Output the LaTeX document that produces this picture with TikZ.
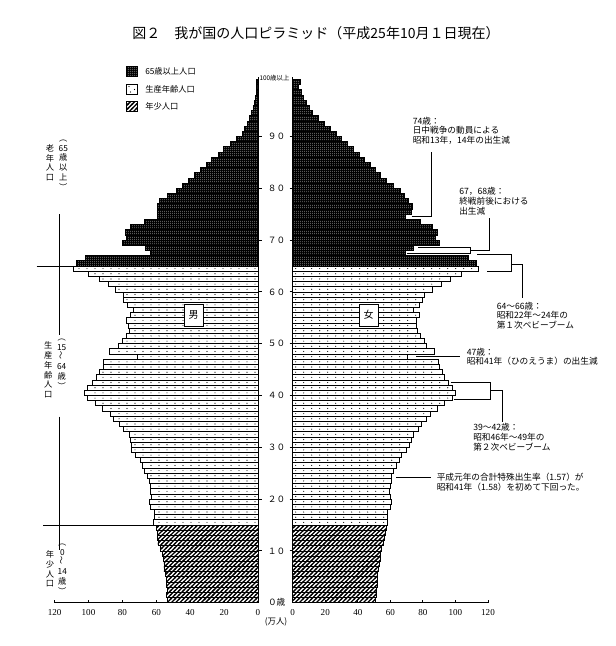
\documentclass[tikz,border=0pt]{standalone}
\usepackage{fontspec}
\usepackage{graphicx}
\usetikzlibrary{patterns}
\newfontfamily\jp{Noto Sans CJK JP}
\newfontfamily\serifnum{Liberation Serif}
\newcommand\vlp{︵}
\newcommand\vrp{︶}
\newcommand\vwave{\rotatebox{90}{〜}}
\pgfdeclarepatternformonly{finedots}{\pgfqpoint{0pt}{0pt}}{\pgfqpoint{1.5pt}{1.5pt}}{\pgfqpoint{1.5pt}{1.5pt}}{\pgfpathcircle{\pgfqpoint{0.75pt}{0.75pt}}{0.35pt}\pgfusepath{fill}}
\pgfdeclarepatternformonly{thickhatch}{\pgfqpoint{-1pt}{-1pt}}{\pgfqpoint{4.2pt}{4.2pt}}{\pgfqpoint{3.2pt}{3.2pt}}{\pgfsetlinewidth{0.95pt}\pgfpathmoveto{\pgfqpoint{-0.5pt}{-0.5pt}}\pgfpathlineto{\pgfqpoint{3.7pt}{3.7pt}}\pgfusepath{stroke}}
\begin{document}
\begin{tikzpicture}[x=0.75pt,y=0.75pt,yscale=-1,
  youngbar/.style={draw=black,line width=0.6pt,preaction={fill=white},pattern=thickhatch},
  workbar/.style={draw=black,line width=0.6pt,fill=white},
  dotrow/.style={line width=0.85pt,line cap=round,dash pattern=on 0pt off 6pt},
  oldbar/.style={draw=black,line width=0.6pt,preaction={fill=black},pattern=finedots,pattern color=white},
  leader/.style={line width=0.7pt},
  note/.style={font=\jp\fontsize{6.5}{7.3}\selectfont,align=left,anchor=north west,inner sep=0pt},
  vlab/.style={font=\jp\fontsize{6.2}{7.3}\selectfont,align=center,inner sep=0pt},
  agelab/.style={font=\jp\fontsize{6.5}{6.5}\selectfont,inner sep=0pt},
  toplab/.style={font=\jp\fontsize{4.8}{4.8}\selectfont,inner sep=0pt},
  numlab/.style={font=\serifnum\fontsize{6.8}{6.8}\selectfont,inner sep=0pt},
  sexbox/.style={draw=black,line width=0.6pt,fill=white,minimum width=14.25pt,minimum height=16.5pt,inner sep=0pt,font=\jp\fontsize{7.5}{7.5}\selectfont},
  legbox/.style={minimum width=8.25pt,minimum height=7.5pt,inner sep=0pt},
  legtext/.style={font=\jp\fontsize{6.2}{6.2}\selectfont,anchor=west,inner sep=0pt},
  titletext/.style={font=\jp\fontsize{10.5}{10.5}\selectfont,inner sep=0pt}]
\useasboundingbox (0,0) rectangle (615,646);

% Title
\node[titletext] (title) at (316,33) {図２　我が国の人口ピラミッド（平成25年10月１日現在）};

% Legend
\node[legbox,oldbar] (keyold) at (131.5,71.5) {};
\node[legtext] (keyoldtxt) at (145,71.5) {65歳以上人口};
\node[legbox,workbar] (keywork) at (131.5,89) {};
\fill (129,86.5) circle (0.6) (134.5,89.5) circle (0.6) (130.5,92) circle (0.6);
\node[legtext] (keyworktxt) at (145,89) {生産年齢人口};
\node[legbox,youngbar] (keyyoung) at (131.5,106.3) {};
\node[legtext] (keyyoungtxt) at (145,106.3) {年少人口};

% Male bars
\foreach \w [count=\a from 0] in {53.5,54,53.5,54,54,54.5,55.5,55.5,56,56.5,57.5,59,59.5,59.5,60}
  \draw[youngbar] ({258-1.695*\w},{602.7-5.18*\a}) rectangle (258,{597.52-5.18*\a});
\foreach \w [count=\a from 15] in {61.5,61.4,61.4,63.3,64.1,62.7,63.3,63.7,64.1,65.3,67.1,68.2,69.6,72.6,74.5,74.9,75.5,76.1,79.4,81.8,85.3,87.3,91.8,96.2,100.7,102.5,100.7,97.7,95.2,93.6,91.2,91.2,71.2,87.7,82.4,80,77.5,75.9,76.5,77.5,75.1,73.5,76.9,79.4,79.4,84.4,88.3,93.6,100,109}{
  \draw[workbar] ({258-1.695*\w},{602.7-5.18*\a}) rectangle (258,{597.52-5.18*\a});
  \draw[dotrow] (255,{600.11-5.18*\a}) -- ({261-1.695*\w},{600.11-5.18*\a});
}
\foreach \w [count=\a from 65] in {107.4,102,63.7,66.7,80,77.5,78.5,75.5,67,59.5,59.4,59.4,58.2,53.5,48.4,44.4,41.1,37.8,34.2,30.7,27.3,23.4,20.5,16.5,12.6,9.5,7.8,6.2,4.9,3.7,2.8,2.2,1.6,1.2,0.9,1.2}
  \draw[oldbar] ({258-1.695*\w},{602.7-5.18*\a}) rectangle (258,{597.52-5.18*\a});

% Female bars
\foreach \w [count=\a from 0] in {51,51.5,51.5,52,52,52,52.5,53,53.5,54,54.5,55.5,56.5,57,57.5}
  \draw[youngbar] (292.7,{602.7-5.18*\a}) rectangle ({292.7+1.63*\w},{597.52-5.18*\a});
\foreach \w [count=\a from 15] in {58,58.1,58.3,59.7,60.7,59.7,59.3,59.7,60.3,60.7,61.7,63.4,65.2,66.9,69.9,71.5,73,74,77.1,79.1,82.2,84.7,88.7,93,98.2,99.6,98.2,95.5,92.8,91.8,90,89.3,70.5,86.7,82.2,80.6,78.5,76.5,76.1,76.1,77.7,74,77.7,79.7,80.8,85.6,91.4,96.5,103.7,113.9}{
  \draw[workbar] (292.7,{602.7-5.18*\a}) rectangle ({292.7+1.63*\w},{597.52-5.18*\a});
  \draw[dotrow] (295.7,{600.11-5.18*\a}) -- ({289.7+1.63*\w},{600.11-5.18*\a});
}
\foreach \w [count=\a from 65] in {112.9,107.7,68.9,74,89.8,87.7,88.7,85.9,78.1,68.9,73,73.6,71,68.5,66,62,57.5,54,51,47.4,44,40.7,37.2,33.7,30.1,26.6,22.9,19.4,15.7,12.1,10,8.3,6.8,5.3,3.8,5}
  \draw[oldbar] (292.7,{602.7-5.18*\a}) rectangle ({292.7+1.63*\w},{597.52-5.18*\a});

% Axes
\draw[leader] (258,602.7) -- (258,77) (292.7,602.7) -- (292.7,77);
\draw[leader] (54.6,602.7) -- (258,602.7) (292.7,602.7) -- (488,602.7);
\foreach \i in {0,...,6}{
  \pgfmathtruncatemacro\v{\i*20}
  \draw[leader] ({258-33.9*\i},602.7) -- ++(0,-3);
  \draw[leader] ({292.7+32.55*\i},602.7) -- ++(0,-3);
  \node[numlab] (mx\i) at ({258-33.9*\i},613) {\v};
  \node[numlab] (fx\i) at ({292.7+32.55*\i},613) {\v};
}
\node[numlab,font=\jp\fontsize{6.3}{6.3}\selectfont] (unit) at (276,622) {(万人)};

% Age labels
\node[agelab] (age0) at (276.7,602.7) {０歳};
\foreach \v [count=\i] in {１０,２０,３０,４０,５０,６０,７０,８０,９０}{
  \node[agelab] (age\i) at (276.5,{602.7-51.8*\i}) {\v};
  \draw[leader] (258,{602.7-51.8*\i}) -- (261.5,{602.7-51.8*\i});
  \draw[leader] (289.5,{602.7-51.8*\i}) -- (292.7,{602.7-51.8*\i});
}
\node[toplab] (age100) at (274.5,78.5) {100歳以上};

% Sex boxes
\node[sexbox] (male) at (193.5,315) {男};
\node[sexbox] (female) at (368.5,315) {女};

% Left side groups
\draw[leader] (59.3,214.3) -- (59.3,335) (59.3,416.7) -- (59.3,550);
\coordinate (m64) at (73.2,266);
\coordinate (m15) at (153.8,525);
\draw[leader] (36.7,266) -- (m64);
\draw[leader] (43,525) -- (m15);
\node[vlab] (oldlab) at (50,162.8) {老\\年\\人\\口};
\node[vlab] (oldage) at (63.3,165) {\vlp\\65\\歳\\以\\上\\\vrp};
\node[vlab] (worklab) at (48.3,370) {生\\産\\年\\齢\\人\\口};
\node[vlab] (workage) at (61.7,364) {\vlp\\15\\\vwave\\64\\歳\\\vrp};
\node[vlab] (younglab) at (50,569) {年\\少\\人\\口};
\node[vlab] (youngage) at (62.3,569) {\vlp\\0\\\vwave\\14\\歳\\\vrp};

% Text Node
\node[note] (n74) at (412.5,116.5) {74歳：\\日中戦争の動員による\\昭和13年，14年の出生減};
\node[note] (n6768) at (459,187) {67，68歳：\\終戦前後における\\出生減};
\node[note] (n6466) at (496.5,301.5) {64〜66歳：\\昭和22年〜24年の\\第１次ベビーブーム};
\node[note] (n47) at (466.5,347.5) {47歳：\\昭和41年（ひのえうま）の出生減};
\node[note] (n3942) at (473,423) {39〜42歳：\\昭和46年〜49年の\\第２次ベビーブーム};
\node[note] (n24) at (436.5,473) {平成元年の合計特殊出生率（1.57）が\\昭和41年（1.58）を初めて下回った。};

% Straight Lines
\coordinate (f74) at (411.7,216.8);
\draw[leader] (f74) -- (431,216.8) -- (431,152);
\coordinate (f68) at (418.3,247.5);
\coordinate (f67) at (406.7,253.2);
\draw[leader] (f68) -- (470,247.5) -- (470,253.2) -- (f67);
\draw[leader] (470,250.3) -- (489.3,250.3) -- (489.3,218);
\coordinate (f66) at (477.3,254);
\coordinate (f64) at (487.3,271);
\draw[leader] (f66) -- (511.7,254) -- (511.7,271) -- (f64);
\draw[leader] (511.7,264) -- (522.3,264) -- (522.3,298);
\coordinate (f47) at (416,356.7);
\draw[leader] (f47) -- (460,356.7);
\coordinate (f42) at (450.7,382);
\coordinate (f39) at (454,399);
\draw[leader] (f42) -- (490.7,382) -- (490.7,399) -- (f39);
\draw[leader] (490.7,390) -- (502.3,390) -- (502.3,421.7);
\coordinate (f24) at (396,477.7);
\draw[leader] (f24) -- (430.7,477.7);

\end{tikzpicture}
\end{document}
